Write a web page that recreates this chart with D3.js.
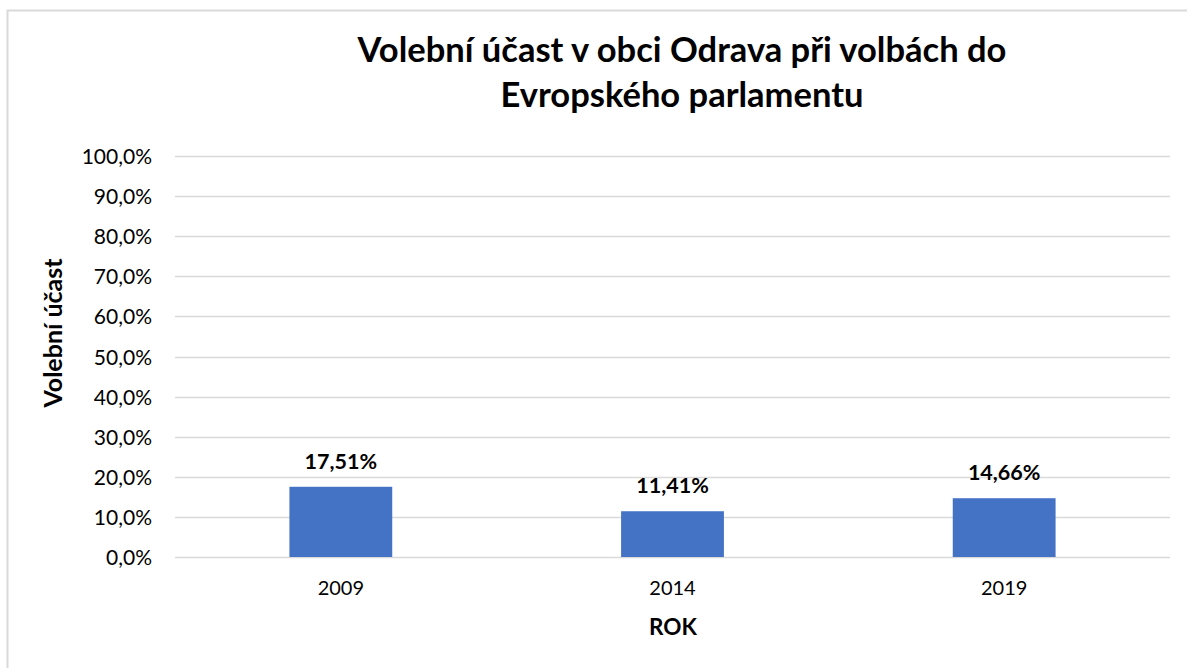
<!DOCTYPE html>
<html>
<head>
<meta charset="utf-8">
<script src="https://cdn.jsdelivr.net/npm/d3@7"></script>
<style>
  html, body { margin: 0; padding: 0; background: #fff; }
  svg { display: block; font-family: Lato, "Open Sans", sans-serif; }
</style>
</head>
<body>
<svg id="chart" width="1187" height="668"></svg>
<script>
const years = ["2009", "2014", "2019"];
const turnout = [17.51, 11.41, 14.66];
const yTicks = [0, 10, 20, 30, 40, 50, 60, 70, 80, 90, 100];
const titleLines = ["Volební účast v obci Odrava při volbách do", "Evropského parlamentu"];

const svg = d3.select("#chart");
const margin = { top: 156, right: 17, bottom: 111, left: 175 };
const W = 1187, H = 668;
const width = W - margin.left - margin.right;
const height = H - margin.top - margin.bottom;

// outer chart border (left and top edges visible)
svg.append("path")
    .attr("d", `M7.5,${H} V10.5 H${W}`)
    .attr("fill", "none")
    .attr("stroke", "#d9d9d9")
    .attr("stroke-width", 2);

svg.selectAll("text.title").data(titleLines).enter().append("text")
    .attr("class", "title")
    .attr("x", 682)
    .attr("y", (d, i) => 62 + i * 45)
    .attr("text-anchor", "middle")
    .style("font-size", "34.5px")
    .style("font-weight", "bold")
    .attr("fill", "#000")
    .text(d => d);

const g = svg.append("g").attr("transform", `translate(${margin.left},${margin.top})`);

const x = d3.scaleBand().domain(years).range([0, width]).paddingInner(0.69).paddingOuter(0.345);
const y = d3.scaleLinear().domain([0, 100]).range([height, 0]);

// gridlines
g.append("g").selectAll("line").data(yTicks).enter().append("line")
    .attr("x1", 0).attr("x2", width)
    .attr("y1", d => Math.round(y(d)) + 0.5).attr("y2", d => Math.round(y(d)) + 0.5)
    .attr("stroke", "#d9d9d9")
    .attr("stroke-width", 1.5);

// y axis
const yAxis = g.append("g")
    .call(d3.axisLeft(y).tickValues(yTicks).tickSize(0).tickPadding(23)
        .tickFormat(d => d3.format(".1f")(d).replace(".", ",") + "%"));
yAxis.select(".domain").remove();
yAxis.selectAll("text").style("font-size", "21px").attr("fill", "#000").attr("dy", "0.36em")
    .style("font-family", "Lato, 'Open Sans', sans-serif");

// bars
const data = years.map((yr, i) => ({ yr, v: turnout[i] }));
g.append("g").selectAll("rect").data(data).enter().append("rect")
    .attr("x", d => x(d.yr))
    .attr("y", d => y(d.v))
    .attr("width", x.bandwidth())
    .attr("height", d => y(0) - y(d.v))
    .attr("fill", "#4472c4");

// value labels
g.append("g").selectAll("text").data(data).enter().append("text")
    .attr("x", d => x(d.yr) + x.bandwidth() / 2)
    .attr("y", d => y(d.v) - 18)
    .attr("text-anchor", "middle")
    .style("font-size", "21.5px")
    .style("font-weight", "bold")
    .attr("fill", "#000")
    .text(d => d.v.toFixed(2).replace(".", ",") + "%");

// x axis
const xAxis = g.append("g")
    .attr("transform", `translate(0,${height})`)
    .call(d3.axisBottom(x).tickSize(0).tickPadding(0));
xAxis.select(".domain").remove();
xAxis.selectAll("text").style("font-size", "20px").attr("fill", "#000")
    .attr("dy", null).attr("y", 38)
    .style("font-family", "Lato, 'Open Sans', sans-serif");

// axis titles
svg.append("text")
    .attr("x", 673)
    .attr("y", 635)
    .attr("text-anchor", "middle")
    .style("font-size", "22.5px")
    .style("font-weight", "bold")
    .text("ROK");

svg.append("text")
    .attr("transform", `translate(62,333) rotate(-90)`)
    .attr("text-anchor", "middle")
    .style("font-size", "25px")
    .style("font-weight", "bold")
    .text("Volební účast");
</script>
</body>
</html>
